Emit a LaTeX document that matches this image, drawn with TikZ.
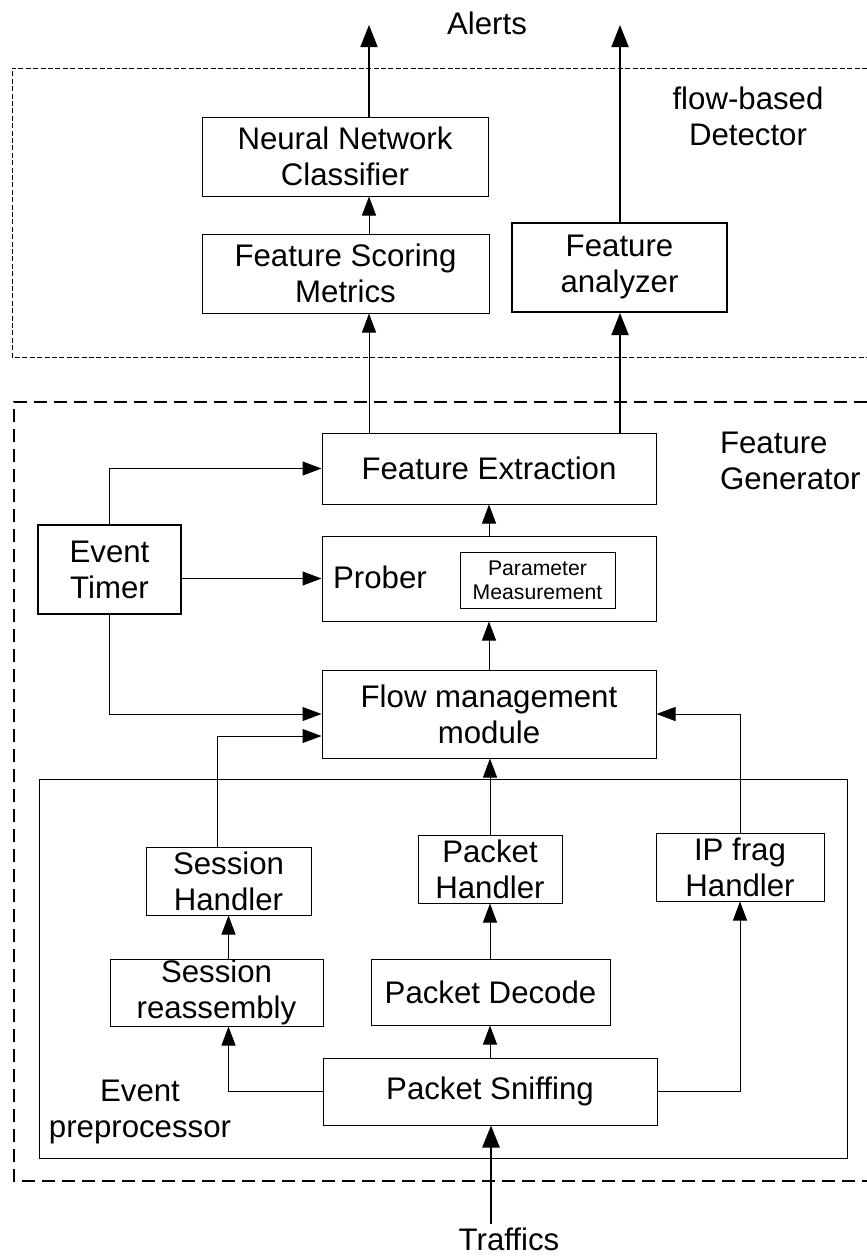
\documentclass[tikz,border=0pt]{standalone}
\usepackage{fontspec}
\setmainfont{Liberation Sans}
\usetikzlibrary{arrows.meta, positioning}

\begin{document}
\begin{tikzpicture}[x=0.5pt, y=-0.5pt, font=\fontsize{15.6}{18}\selectfont]
    % Define styles
    \tikzstyle{block} = [rectangle, draw=black, line width=0.5pt, inner sep=0pt, align=center]
    \tikzstyle{heavyblock} = [block, line width=1pt]
    \tikzstyle{arrow} = [-{Triangle[length=9.5pt, width=7pt]}, line width=0.5pt]
    \tikzstyle{heavyarrow} = [-{Triangle[length=11pt, width=8.5pt]}, line width=0.9pt]

    \useasboundingbox (0,0) rectangle (867,1258);

    % Regions
    \draw[line width=0.5pt, dash pattern=on 2.5pt off 1.2pt] (867,68) -| (12,357) -- (867,357);
    \draw[line width=1pt, dash pattern=on 6.5pt off 3.5pt] (867,402) -| (14,1181) -- (867,1181);
    \draw[line width=0.5pt] (39,779) rectangle (847,1158);

    % flow-based Detector
    \node[block, minimum width=143pt, minimum height=39.5pt] (nn) at (345,156.5) {Neural Network\\Classifier};
    \node[block, minimum width=143.5pt, minimum height=39.5pt] (fsm) at (345.5,273.5) {Feature Scoring\\Metrics};
    \node[heavyblock, minimum width=107.5pt, minimum height=44.5pt] (fa) at (619.5,267.5) {Feature\\analyzer};
    \node[align=center] (detector) at (748,116) {flow-based\\Detector};

    % Feature Generator
    \node[block, minimum width=167pt, minimum height=35.5pt] (fe) at (489,468.5) {Feature Extraction};
    \node[heavyblock, minimum width=71.5pt, minimum height=44.5pt] (et) at (109.5,569.5) {Event\\Timer};
    \node[block, minimum width=167pt, minimum height=42.5pt] (prober) at (489,578.5) {};
    \node (probertxt) at (380,577) {Prober};
    \node[block, minimum width=77.5pt, minimum height=28pt, font=\fontsize{10.6}{12}\selectfont] (pm) at (537.5,580) {Parameter\\Measurement};
    \node[block, minimum width=167pt, minimum height=44pt] (flow) at (489,714) {Flow management\\module};
    \node[align=left, anchor=west] (generator) at (713,461) {Feature\\Generator};

    % Event preprocessor
    \node[block, minimum width=82.5pt, minimum height=34pt] (sh) at (228.5,881) {Session\\Handler};
    \node[block, minimum width=72pt, minimum height=34pt] (ph) at (490,869) {Packet\\Handler};
    \node[block, minimum width=84pt, minimum height=34pt] (ipf) at (740,867) {IP frag\\Handler};
    \node[block, minimum width=106.5pt, minimum height=33.5pt] (sr) at (216.5,992.5) {Session\\reassembly};
    \node[block, minimum width=119.5pt, minimum height=33pt] (pd) at (490.5,992) {Packet Decode};
    \node[block, minimum width=167pt, minimum height=33.5pt] (ps) at (490,1091.5) {Packet Sniffing};
    \node[align=center] (preproc) at (140,1112) {Event\\preprocessor};

    % Inputs and outputs
    \coordinate (alertsL) at (369,25);
    \coordinate (alertsR) at (620,25);
    \coordinate (trafficsin) at (491,1224);
    \node (alerts) at (487,23.5) {Alerts};
    \node (traffics) at (509,1239) {Traffics};

    % Arrows
    \draw[heavyarrow] (nn.north -| alertsL) -- (alertsL);
    \draw[heavyarrow] (fa.north -| alertsR) -- (alertsR);
    \draw[arrow] (fsm.north -| alertsL) -- (nn.south -| alertsL);
    \draw[arrow] (fe.north -| alertsL) -- (fsm.south -| alertsL);
    \draw[heavyarrow] (fe.north -| alertsR) -- (fa.south -| alertsR);
    \draw[arrow] (prober.north) -- (fe.south);
    \draw[arrow] (flow.north) -- (prober.south);
    \draw[arrow] (et.north) |- (fe.west);
    \draw[arrow] (et.east |- prober.west) -- (prober.west);
    \draw[arrow] (et.south) |- (flow.west);
    \draw[arrow] ([xshift=-5.75pt]sh.north) |- ([yshift=-11pt]flow.west);
    \draw[arrow] (ph.north) -- (ph.north |- flow.south);
    \draw[arrow] (ipf.north) |- (flow.east);
    \draw[arrow] (sr.north -| sh.south) -- (sh.south);
    \draw[arrow] (pd.north -| ph.south) -- (ph.south);
    \draw[arrow] (ps.north) -- (ps.north |- pd.south);
    \draw[arrow] (ps.west) -| (sr.south -| sh.south);
    \draw[arrow] (ps.east) -| (ipf.south);
    \draw[heavyarrow, line width=1.3pt] (trafficsin) -- (trafficsin |- ps.south);

\end{tikzpicture}
\end{document}
